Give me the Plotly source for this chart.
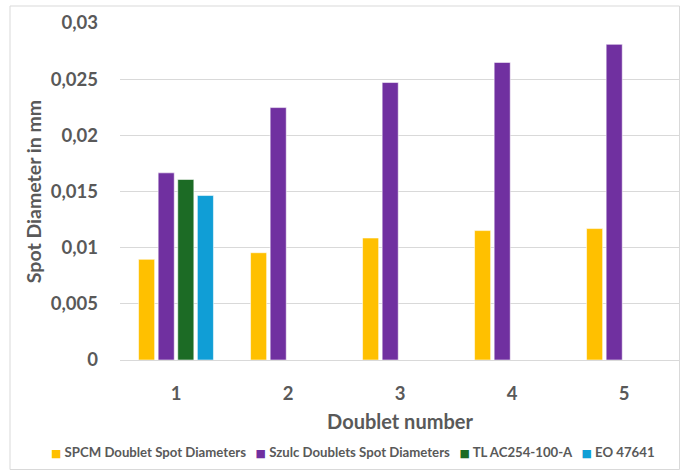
import plotly.graph_objects as go

categories = ["1", "2", "3", "4", "5"]
spcm = [0.00896, 0.00955, 0.01086, 0.01152, 0.0117]
szulc = [0.01666, 0.02247, 0.0247, 0.02649, 0.0281]
tl = [0.01607, None, None, None, None]
eo = [0.01464, None, None, None, None]

names = ["SPCM Doublet Spot Diameters", "Szulc Doublets Spot Diameters", "TL AC254-100-A", "EO 47641"]
colors = ["#FFC000", "#7030A0", "#1C6B25", "#109ED6"]
series = [spcm, szulc, tl, eo]

FONT = "Lato, sans-serif"
GREY = "#595959"

fig = go.Figure()
for n, c, s in zip(names, colors, series):
    fig.add_trace(go.Bar(x=categories, y=s, name=n, showlegend=False,
                         marker=dict(color=c, line=dict(color="rgba(255,255,255,0.55)", width=1))))

NB = "\u00a0"
legend_text = (NB * 3).join(
    f"<span style='color:{c};font-size:11px;font-family:DejaVu Sans'>■</span>{NB}{n}" for n, c in zip(names, colors)
)

fig.update_layout(
    width=681, height=471,
    margin=dict(l=120, r=1, t=23, b=111),
    paper_bgcolor="white", plot_bgcolor="white",
    barmode="group", bargap=0.30, bargroupgap=0.18,
    font=dict(family=FONT, color=GREY),
    xaxis=dict(showgrid=False, ticks="", tickfont=dict(size=18.5, weight="bold", color=GREY),
               ticklabelstandoff=20,
               title=dict(text="Doublet number", font=dict(size=20, weight="bold", color=GREY), standoff=12),
               showline=False),
    yaxis=dict(range=[0, 0.03], dtick=0.005, tickformat=",.3~f", gridcolor="#D9D9D9", gridwidth=1,
               zeroline=True, zerolinecolor="#D9D9D9", zerolinewidth=1,
               tickfont=dict(size=18.5, weight="bold", color=GREY), ticklabelstandoff=21,
               title=dict(text="Spot Diameter in mm", font=dict(size=19.5, weight="bold", color=GREY), standoff=3)),
    separators=", ",
    annotations=[dict(text=legend_text, xref="paper", yref="paper", x=(352.5 - 120) / 560, y=(360 - 452) / 337,
                      xanchor="center", yanchor="middle", showarrow=False,
                      font=dict(size=13.2, family=FONT, color=GREY, weight="bold"))],
    shapes=[dict(type="rect", xref="paper", yref="paper", x0=-110 / 560, x1=559.5 / 560,
                 y0=(360 - 469.5) / 337, y1=(360 - 6) / 337,
                 line=dict(color="#D9D9D9", width=1), fillcolor="rgba(0,0,0,0)", layer="below")],
)
fig.write_html("out.html")
